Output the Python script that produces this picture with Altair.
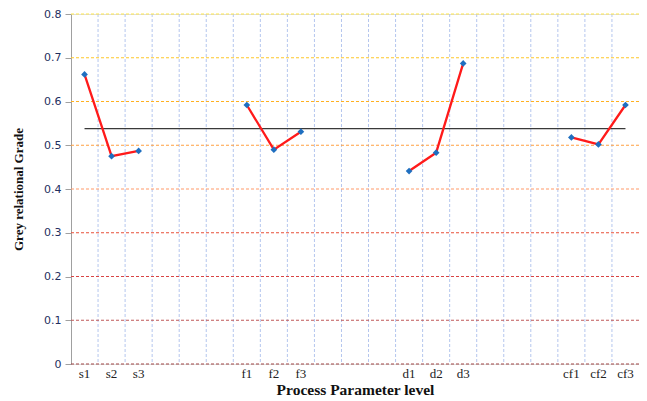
import altair as alt
import pandas as pd

# 21 slots on the level axis; blank slots separate the parameter groups
slots = ["s1", "s2", "s3", "_a", "_b", "_c",
         "f1", "f2", "f3", "_d", "_e", "_f",
         "d1", "d2", "d3", "_g", "_h", "_i",
         "cf1", "cf2", "cf3"]

levels = ["s1", "s2", "s3", "f1", "f2", "f3", "d1", "d2", "d3", "cf1", "cf2", "cf3"]
groups = ["s", "s", "s", "f", "f", "f", "d", "d", "d", "cf", "cf", "cf"]
grade = [0.662, 0.475, 0.487, 0.592, 0.490, 0.531, 0.441, 0.483, 0.687, 0.518, 0.502, 0.592]
mean_grade = [0.538]

y_ticks = [0.0, 0.1, 0.2, 0.3, 0.4, 0.5, 0.6, 0.7, 0.8]
grid_colors = ["#a04444", "#c05a5a", "#d84444", "#e8503a", "#ff9a6a",
               "#ffa040", "#ffb020", "#ffc828", "#ffe84a"]

df = pd.DataFrame({"slot": levels, "group": groups, "grade": grade})
vdf = pd.DataFrame({"slot": slots[1:]})
hdf = pd.DataFrame({"tick": y_ticks, "key": [str(i) for i in range(len(y_ticks))]})
mdf = pd.DataFrame({"start": [levels[0]], "end": [levels[-1]], "mean": mean_grade})

W, H = 568, 350
xscale = alt.Scale(type="band", domain=slots, paddingInner=0, paddingOuter=0)
yscale = alt.Scale(domain=[0, 0.8], nice=False)

xaxis = alt.Axis(
    title="Process Parameter level",
    titleFont="Liberation Serif", titleFontSize=15.5, titleFontWeight="bold",
    titleColor="#111111", titlePadding=2,
    labelFont="Liberation Serif", labelFontSize=13, labelColor="#222222",
    labelAngle=0, labelPadding=3, ticks=False, domain=False, grid=False,
    labelExpr="indexof(datum.label, '_') == 0 ? '' : datum.label",
)
yaxis = alt.Axis(
    title="Grey relational Grade",
    titleFont="Liberation Serif", titleFontSize=13, titleFontWeight="bold",
    titleColor="#111111", titlePadding=18,
    labelFont="DejaVu Sans", labelFontSize=11, labelColor="#1f2f5f",
    values=y_ticks, labelExpr="datum.value == 0 ? '0' : format(datum.value, '.1f')",
    grid=False, domainColor="#a0a0a0", tickColor="#a0a0a0", tickSize=6,
    labelPadding=4,
)

vgrid = alt.Chart(vdf).mark_rule(color="#b4c6ee", strokeDash=[3, 2], strokeWidth=1).encode(
    x=alt.X("slot:N", scale=xscale, bandPosition=0, axis=xaxis, sort=slots),
    y=alt.value(0), y2=alt.value(H),
)

hgrid = alt.Chart(hdf).mark_rule(strokeDash=[3, 2], strokeWidth=1.2).encode(
    y=alt.Y("tick:Q", scale=yscale, axis=yaxis),
    x=alt.value(0), x2=alt.value(W),
    color=alt.Color("key:N", scale=alt.Scale(domain=hdf["key"].tolist(), range=grid_colors), legend=None),
)

mean_line = alt.Chart(mdf).mark_rule(color="#3a3a3a", strokeWidth=1.4).encode(
    x=alt.X("start:N", scale=xscale, sort=slots),
    x2="end:N",
    y=alt.Y("mean:Q", scale=yscale),
)

lines = alt.Chart(df).mark_line(color="#ff1a1a", strokeWidth=2.3).encode(
    x=alt.X("slot:N", scale=xscale, sort=slots),
    y=alt.Y("grade:Q", scale=yscale),
    detail="group:N",
)

points = alt.Chart(df).mark_point(shape="diamond", filled=True, color="#1f6fc0", size=45, opacity=1).encode(
    x=alt.X("slot:N", scale=xscale, sort=slots),
    y=alt.Y("grade:Q", scale=yscale),
)

chart = alt.layer(vgrid, hgrid, mean_line, lines, points).properties(
    width=W, height=H,
    autosize=alt.AutoSizeParams(type="none"),
    padding={"left": 63, "top": 6, "right": 0, "bottom": 35},
).configure_view(stroke=None).configure(background="white")

chart.save("out.html", embed_options={"renderer": "svg", "actions": False})
